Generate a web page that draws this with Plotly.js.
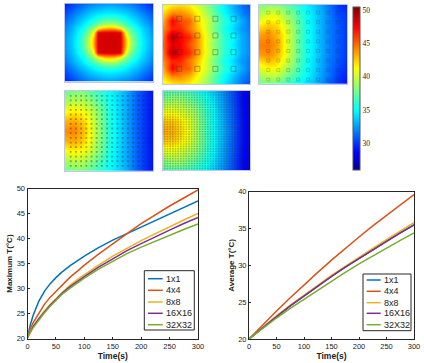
<!DOCTYPE html>
<html><head><meta charset="utf-8">
<script src="https://cdn.plot.ly/plotly-3.0.1.min.js"></script>
<style>html,body{margin:0;padding:0;background:#fff}#c{width:424px;height:363px}</style>
</head><body><div id="c"></div><script>
const names=['1x1','4x4','8x8','16X16','32X32'];
const colors=['#0072BD','#D95319','#EDB120','#7E2F8E','#77AC30'];
const timeMax=[0,2,5,10,20,30,40,50,60,75,90,100,125,150,175,200,225,250,275,300];
const max1=[20.3,21.5,22.8,24.7,27.5,29.5,31,32.2,33.25,34.6,35.8,36.5,38.2,39.7,41,42.3,43.6,44.9,46.2,47.5];
const max4=[20.3,21,22,23.2,25.2,26.9,28.3,29.5,30.7,32.3,33.7,34.7,36.9,39,41,43,44.8,46.5,48.1,49.7];
const max8=[20.2,20.8,21.5,22.5,24.1,25.6,26.9,28,29.2,30.7,32,32.8,34.7,36.5,38.1,39.6,41,42.4,43.7,45];
const max16=[20.2,20.7,21.4,22.4,24,25.4,26.7,27.8,29,30.4,31.7,32.4,34.3,36,37.6,39,40.4,41.7,43,44.2];
const max32=[20.1,20.6,21.3,22.2,23.8,25.2,26.5,27.6,28.8,30.1,31.4,32.1,33.9,35.5,37,38.3,39.5,40.7,41.8,42.9];
const timeAvg=[0,25,50,75,100,125,150,175,200,225,250,275,300];
const avg1=[20,21.55,23.05,24.5,25.85,27.2,28.5,29.75,30.95,32.1,33.25,34.4,35.5];
const avg4=[20,21.95,23.8,25.6,27.35,29.05,30.7,32.3,33.85,35.35,36.8,38.2,39.6];
const avg8=[20,21.6,23.15,24.6,26,27.3,28.65,29.9,31.15,32.3,33.5,34.65,35.8];
const avg16=[20,21.55,23.05,24.5,25.85,27.2,28.5,29.75,30.95,32.1,33.25,34.4,35.5];
const avg32=[20,21.45,22.85,24.15,25.4,26.65,27.9,29.05,30.2,31.3,32.4,33.4,34.4];
const ticksMax=[20,25,30,35,40,45,50];
const ticksAvg=[20,25,30,35,40];
const ticksTime=[0,50,100,150,200,250,300];
const barTicks=[30,35,40,45,50];
const zMin=26, zMax=50.4;
const heat1=[
[29.5,30,30.6,31.1,31.6,31.9,32.2,32.4,32.5,32.4,32.2,31.9,31.6,31.1,30.6,30,29.5],
[30,30.7,31.3,31.9,32.5,32.9,33.2,33.5,33.6,33.5,33.2,32.9,32.5,31.9,31.3,30.7,30],
[30.6,31.3,32,32.7,33.3,33.9,34.3,34.6,34.7,34.6,34.3,33.9,33.3,32.7,32,31.3,30.6],
[31.1,31.9,32.7,33.5,34.2,34.9,35.8,36.3,36.5,36.3,35.8,34.9,34.2,33.5,32.7,31.9,31.1],
[31.6,32.5,33.3,34.2,35.1,36.5,37.5,38.6,38.8,38.6,37.5,36.5,35.1,34.2,33.3,32.5,31.6],
[31.9,32.9,33.9,34.9,36.5,38,40.5,42.3,42.7,42.3,40.5,38,36.5,34.9,33.9,32.9,31.9],
[32.2,33.2,34.3,35.8,37.5,40.5,48,48.2,48.2,48.2,48,40.5,37.5,35.8,34.3,33.2,32.2],
[32.4,33.5,34.6,36.3,38.6,42.3,48.2,48.4,48.4,48.4,48.2,42.3,38.6,36.3,34.6,33.5,32.4],
[32.5,33.6,34.7,36.5,38.8,42.7,48.2,48.4,48.4,48.4,48.2,42.7,38.8,36.5,34.7,33.6,32.5],
[32.4,33.5,34.6,36.3,38.6,42.3,48.2,48.4,48.4,48.4,48.2,42.3,38.6,36.3,34.6,33.5,32.4],
[32.2,33.2,34.3,35.8,37.5,40.5,48,48.2,48.2,48.2,48,40.5,37.5,35.8,34.3,33.2,32.2],
[31.9,32.9,33.9,34.9,36.5,38,40.5,42.3,42.7,42.3,40.5,38,36.5,34.9,33.9,32.9,31.9],
[31.6,32.5,33.3,34.2,35.1,36.5,37.5,38.6,38.8,38.6,37.5,36.5,35.1,34.2,33.3,32.5,31.6],
[31.1,31.9,32.7,33.5,34.2,34.9,35.8,36.3,36.5,36.3,35.8,34.9,34.2,33.5,32.7,31.9,31.1],
[30.6,31.3,32,32.7,33.3,33.9,34.3,34.6,34.7,34.6,34.3,33.9,33.3,32.7,32,31.3,30.6],
[30,30.7,31.3,31.9,32.5,32.9,33.2,33.5,33.6,33.5,33.2,32.9,32.5,31.9,31.3,30.7,30],
[29.5,30,30.6,31.1,31.6,31.9,32.2,32.4,32.5,32.4,32.2,31.9,31.6,31.1,30.6,30,29.5]];
const heat2=[
[40.5,41.5,42,41.5,40,38.5,36.5,34.5,33,31.5,30.5],
[42,44,44,43,41,39,37,35,33.5,32,31],
[43,47.5,45.5,45,42,40,38,36,34.5,33,31.5],
[44,46.5,46.5,44.5,42.5,40,37.5,35.5,34,32.5,31.7],
[44.5,49.5,47.5,46.5,43.5,40.5,38.5,36,35,33,32],
[45,48,47.5,45.5,43.5,40.5,38,36,34.5,33,32],
[44.5,49.5,47.5,46.5,43.5,40.5,38.5,36,35,33,32],
[44,46.5,46.5,44.5,42.5,40,37.5,35.5,34,32.5,31.7],
[43,47.5,45.5,45,42,40,38,36,34.5,33,31.5],
[42,44,44,43,41,39,37,35,33.5,32,31],
[40.5,41.5,42,41.5,40,38.5,36.5,34.5,33,31.5,30.5]];
const heat3=[
[38,38.5,38.5,37.5,36.5,35,34,32.8,31.5,30,29.5],
[39.5,40.5,40.5,39,37.5,35.7,34.3,33,31.8,30.5,30],
[41.5,42.5,42,40.3,38.3,36,34.5,33,31.8,30.8,30],
[43.5,44,43,41,38.5,36,34.5,33,31.8,30.8,30],
[44.3,44.5,43.5,41,38.5,36,34.5,33,31.8,30.8,30],
[43.5,44,43,41,38.5,36,34.5,33,31.8,30.8,30],
[41.3,42.3,41.8,40.1,38.1,35.8,34.3,32.8,31.6,30.6,29.8],
[39.3,40,40,38.5,37,35.4,34.1,32.7,31.5,30.2,29.5],
[37.5,38,37.5,36.5,35.5,34.5,33.5,32.3,31,29.8,29]];
const heat4=[
[37.5,38,38,37,36,35,34,32.8,31.3,30,29],
[39,39.5,39.3,38.3,36.8,35.3,34,32.7,31.3,30,29],
[41,41.5,41,39.8,37.8,35.6,34.1,32.7,31.3,30,29],
[43,43.3,42.4,40.5,38.1,35.8,34.2,32.7,31.3,30,29],
[44,44.2,43,40.8,38.3,35.8,34.2,32.7,31.3,30,29],
[43,43.3,42.4,40.5,38.1,35.8,34.2,32.7,31.3,30,29],
[41,41.5,41,39.8,37.8,35.6,34.1,32.7,31.3,30,29],
[39,39.5,39.3,38.3,36.8,35.3,34,32.7,31.3,30,29],
[37.5,38,38,37,36,35,34,32.8,31.3,30,29]];
const heat5=[
[36.5,37,37,36.5,35.5,34.5,33.5,32,30.5,29,27.8],
[38.5,39,39,38,36.8,35.5,34,32.3,30.6,29,27.8],
[40.7,40.8,40.3,39.5,38,36,34.4,32.5,30.8,29.1,27.9],
[42.6,42.6,41.8,40.5,38.5,36.3,34.6,32.7,30.9,29.2,28],
[43.2,43.2,42.2,40.8,38.5,36.3,34.6,32.8,31,29.2,28],
[42.6,42.6,41.8,40.5,38.5,36.3,34.6,32.7,30.9,29.2,28],
[40.7,40.8,40.3,39.5,38,36,34.4,32.5,30.8,29.1,27.9],
[38.5,39,39,38,36.8,35.5,34,32.3,30.6,29,27.8],
[36.5,37,37,36.5,35.5,34.5,33.5,32,30.5,29,27.8]];

const W=424,H=363;
const jet=[[0,'rgb(0,0,143)'],[0.11,'rgb(0,0,255)'],[0.365,'rgb(0,255,255)'],[0.625,'rgb(255,255,0)'],[0.875,'rgb(255,0,0)'],[1,'rgb(128,0,0)']];
const dx=a=>[a[0]/W,a[1]/W], dy=a=>[1-a[1]/H,1-a[0]/H];
const font='Liberation Sans, Arial, sans-serif';
const axesPx=[
 {z:heat1,x:[65,153],y:[3.5,81.5],chips:0},
 {z:heat2,x:[163,250],y:[4.5,84],chips:4,cx:[0.187,0.81],cy:[0.18,0.81],sym:'square-open',size:5,w:0.8,c:'rgba(50,50,50,0.45)'},
 {z:heat3,x:[259,347],y:[4.7,84],chips:8,cx:[0.106,0.897],cy:[0.1,0.945],sym:'square-open',size:3,w:0.6,c:'rgba(50,50,50,0.35)'},
 {z:heat4,x:[65,153],y:[91,170.7],chips:16,cx:[0.065,0.95],cy:[0.06,0.94],sym:'square',size:1.8,w:0,c:'rgba(40,40,40,0.4)'},
 {z:heat5,x:[163,250],y:[91,170],chips:32,cx:[0.02,0.98],cy:[0.02,0.98],sym:'square',size:1.6,w:0,c:'rgba(40,40,40,0.28)'}];
const layout={width:W,height:H,margin:{l:0,r:0,t:0,b:0,autoexpand:false},paper_bgcolor:'#fff',plot_bgcolor:'#fff',showlegend:false,font:{family:font,size:7.5,color:'#222'},shapes:[],annotations:[]};
const traces=[];
const lin=n=>Array.from({length:n},(_,i)=>i/(n-1));
axesPx.forEach((a,k)=>{
 const id=k+1, xn='xaxis'+id, yn='yaxis'+id;
 const frame={showticklabels:false,ticks:'',showgrid:false,zeroline:false,showline:true,mirror:true,linecolor:'rgba(120,130,200,0.45)',linewidth:1,range:[0,1],fixedrange:true};
 layout[xn]=Object.assign({domain:dx(a.x),anchor:'y'+id},frame);
 layout[yn]=Object.assign({domain:dy(a.y),anchor:'x'+id},frame,{range:[1,0]});
 const t={type:'heatmap',z:a.z,x:lin(a.z[0].length),y:lin(a.z.length),xaxis:'x'+id,yaxis:'y'+id,zmin:zMin,zmax:zMax,zsmooth:'best',colorscale:jet,showscale:k===0,hoverinfo:'skip'};
 if(k===0){t.colorbar={x:352.5/W,xanchor:'left',xpad:0,ypad:0,y:1-7.3/H,yanchor:'top',thickness:6.5,thicknessmode:'pixels',len:163,lenmode:'pixels',tickvals:barTicks,ticks:'',outlinecolor:'#555',outlinewidth:1,tickfont:{family:'Liberation Serif, serif',size:7.5,color:'#222'}};}
 traces.push(t);
 if(a.chips){
  const xs=[],ys=[],n=a.chips-1;
  for(let i=0;i<a.chips;i++)for(let j=0;j<a.chips;j++){xs.push(a.cx[0]+(a.cx[1]-a.cx[0])*i/n);ys.push(a.cy[0]+(a.cy[1]-a.cy[0])*j/n);}
  traces.push({type:'scatter',mode:'markers',x:xs,y:ys,xaxis:'x'+id,yaxis:'y'+id,hoverinfo:'skip',marker:{symbol:a.sym,size:a.size,color:a.c,line:{width:a.w,color:a.c}}});
 }
});
const plots=[
 {id:6,t:timeMax,s:[max1,max4,max8,max16,max32],x:[27.5,198],y:[188.5,338.7],r:[20,50],ticks:ticksMax,title:'Maximum T(°C)',leg:{box:[144.3,194.3,270.7,330],ys:[278.7,290.3,302,313.3,324.7],lx:[148,162.7],tx:164.7}},
 {id:7,t:timeAvg,s:[avg1,avg4,avg8,avg16,avg32],x:[249,414],y:[191.7,339],r:[20,40],ticks:ticksAvg,title:'Average T(°C)',leg:{box:[363,411,274,330.7],ys:[280,291.3,302.7,313.3,324.7],lx:[366.7,380.7],tx:382.7}}];
plots.forEach(p=>{
 const common={showgrid:false,zeroline:false,showline:true,mirror:true,linecolor:'#262626',linewidth:1,ticks:'inside',ticklen:2,tickwidth:1,tickcolor:'#262626',fixedrange:true,tickfont:{family:font,size:7.5,color:'#222'}};
 layout['xaxis'+p.id]=Object.assign({domain:dx(p.x),anchor:'y'+p.id,range:[0,300],tickvals:ticksTime,title:{text:'<b>Time(s)</b>',font:{family:font,size:8.5,color:'#222'},standoff:1}},common);
 layout['yaxis'+p.id]=Object.assign({domain:dy(p.y),anchor:'x'+p.id,range:p.r,tickvals:p.ticks,title:{text:'<b>'+p.title+'</b>',font:{family:font,size:8,color:'#222'},standoff:2}},common);
 p.s.forEach((v,i)=>traces.push({type:'scatter',mode:'lines',x:p.t,y:v,xaxis:'x'+p.id,yaxis:'y'+p.id,name:names[i],hoverinfo:'skip',line:{color:colors[i],width:1.5}}));
 const L=p.leg;
 layout.shapes.push({type:'rect',xref:'paper',yref:'paper',x0:L.box[0]/W,x1:L.box[1]/W,y0:1-L.box[3]/H,y1:1-L.box[2]/H,fillcolor:'#fff',line:{color:'#262626',width:1},layer:'above'});
 names.forEach((n,i)=>{
  layout.shapes.push({type:'line',xref:'paper',yref:'paper',x0:L.lx[0]/W,x1:L.lx[1]/W,y0:1-L.ys[i]/H,y1:1-L.ys[i]/H,line:{color:colors[i],width:1.5},layer:'above'});
  layout.annotations.push({xref:'paper',yref:'paper',x:L.tx/W,y:1-L.ys[i]/H,xanchor:'left',yanchor:'middle',showarrow:false,text:n,font:{family:font,size:9,color:'#222'},borderpad:0});
 });
});
Plotly.newPlot('c',traces,layout,{displayModeBar:false,staticPlot:true});
</script></body></html>
